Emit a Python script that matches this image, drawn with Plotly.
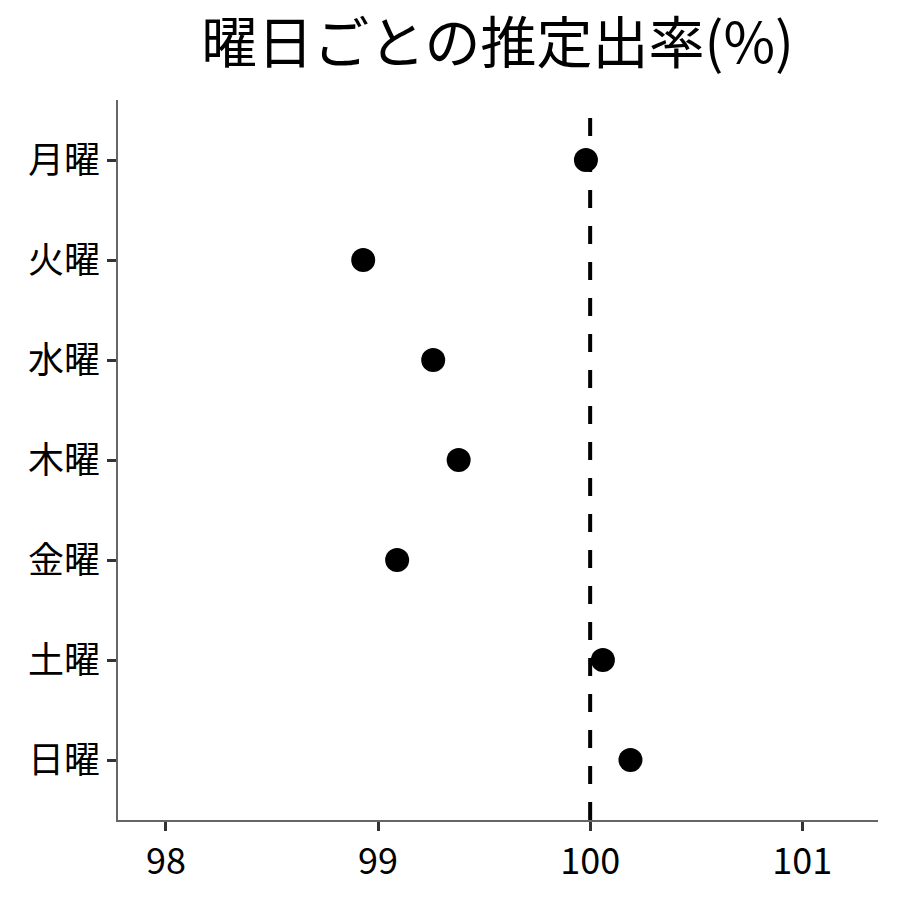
import plotly.graph_objects as go

days = ['月曜', '火曜', '水曜', '木曜', '金曜', '土曜', '日曜']
rates = [99.98, 98.93, 99.26, 99.38, 99.09, 100.06, 100.19]
ref_line = 100

fig = go.Figure()

fig.add_trace(
    go.Scatter(x=rates, y=days, mode='markers',
               marker=dict(color='black', size=24), showlegend=False)
)

# reference line at 100%
fig.add_shape(type='line', x0=ref_line, x1=ref_line, y0=0, y1=1,
              xref='x', yref='paper',
              line=dict(color='black', width=4, dash='18px,18px'))

# page body adds ~8px offset, so margins are shifted to compensate
fig.update_layout(
    width=900, height=900,
    margin=dict(l=110, r=30, t=92, b=88),
    plot_bgcolor='white', paper_bgcolor='white',
    font=dict(family='Noto Sans CJK JP', color='black'),
    title=dict(text='曜日ごとの推定出率(%)', x=0.544, xanchor='center',
               y=0.961, yanchor='middle', font=dict(size=56)),
)

fig.update_xaxes(range=[97.774, 101.357], tickvals=[98, 99, 100, 101],
                 showgrid=False, zeroline=False,
                 showline=True, linecolor='#666', linewidth=1.5,
                 ticks='outside', ticklen=9, tickwidth=3, tickcolor='#333',
                 tickfont=dict(size=36))
fig.update_yaxes(categoryorder='array', categoryarray=days,
                 range=[6.6, -0.6],
                 showgrid=False, zeroline=False,
                 showline=True, linecolor='#666', linewidth=1.5,
                 ticks='outside', ticklen=9, tickwidth=3, tickcolor='#333',
                 tickfont=dict(size=36))

fig.write_html("out.html")
